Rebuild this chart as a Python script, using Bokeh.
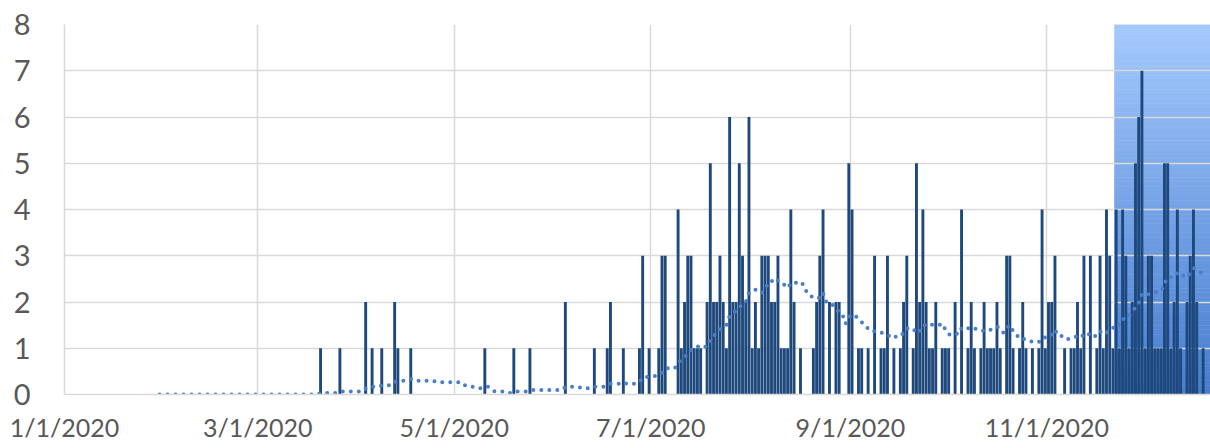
import numpy as np
import pandas as pd
from bokeh.plotting import figure
from bokeh.models import Range1d, FixedTicker
from bokeh.embed import file_html
from bokeh.resources import INLINE

# ---------------- data ----------------
series_start = "2020-01-01"
series_end = "2020-12-19"
view_end = "2020-12-21 19:00"

event_dates = [
    "2020-03-20", "2020-03-26", "2020-04-03", "2020-04-05", "2020-04-08", "2020-04-12",
    "2020-04-13", "2020-04-17", "2020-05-10", "2020-05-19", "2020-05-24", "2020-06-04",
    "2020-06-13", "2020-06-17", "2020-06-18", "2020-06-22", "2020-06-27", "2020-06-28",
    "2020-06-30", "2020-07-03", "2020-07-04", "2020-07-05", "2020-07-09", "2020-07-10",
    "2020-07-11", "2020-07-12", "2020-07-13", "2020-07-14", "2020-07-15", "2020-07-16",
    "2020-07-18", "2020-07-19", "2020-07-20", "2020-07-21", "2020-07-22", "2020-07-23",
    "2020-07-24", "2020-07-25", "2020-07-26", "2020-07-27", "2020-07-28", "2020-07-29",
    "2020-07-30", "2020-07-31", "2020-08-01", "2020-08-02", "2020-08-03", "2020-08-04",
    "2020-08-05", "2020-08-06", "2020-08-07", "2020-08-08", "2020-08-09", "2020-08-10",
    "2020-08-11", "2020-08-12", "2020-08-13", "2020-08-14", "2020-08-16", "2020-08-20",
    "2020-08-21", "2020-08-22", "2020-08-23", "2020-08-25", "2020-08-27", "2020-08-28",
    "2020-08-31", "2020-09-01", "2020-09-03", "2020-09-04", "2020-09-06", "2020-09-08",
    "2020-09-10", "2020-09-11", "2020-09-12", "2020-09-14", "2020-09-16", "2020-09-17",
    "2020-09-18", "2020-09-20", "2020-09-21", "2020-09-22", "2020-09-23", "2020-09-24",
    "2020-09-25", "2020-09-26", "2020-09-27", "2020-09-29", "2020-09-30", "2020-10-01",
    "2020-10-03", "2020-10-05", "2020-10-07", "2020-10-08", "2020-10-09", "2020-10-11",
    "2020-10-12", "2020-10-13", "2020-10-14", "2020-10-15", "2020-10-16", "2020-10-17",
    "2020-10-19", "2020-10-20", "2020-10-21", "2020-10-23", "2020-10-24", "2020-10-25",
    "2020-10-27", "2020-10-29", "2020-10-30", "2020-10-31", "2020-11-01", "2020-11-02",
    "2020-11-03", "2020-11-06", "2020-11-08", "2020-11-09", "2020-11-10", "2020-11-11",
    "2020-11-12", "2020-11-14", "2020-11-16", "2020-11-17", "2020-11-18", "2020-11-19",
    "2020-11-20", "2020-11-21", "2020-11-22", "2020-11-23", "2020-11-24", "2020-11-25",
    "2020-11-26", "2020-11-27", "2020-11-28", "2020-11-29", "2020-11-30", "2020-12-01",
    "2020-12-02", "2020-12-03", "2020-12-04", "2020-12-05", "2020-12-06", "2020-12-07",
    "2020-12-08", "2020-12-09", "2020-12-10", "2020-12-11", "2020-12-12", "2020-12-14",
    "2020-12-15", "2020-12-16", "2020-12-17", "2020-12-19",
]
event_counts = [
    1, 1, 2, 1, 1, 2,
    1, 1, 1, 1, 1, 2,
    1, 1, 2, 1, 1, 3,
    1, 1, 3, 3, 4, 1,
    2, 3, 3, 1, 1, 1,
    2, 5, 2, 2, 3, 2,
    1, 6, 2, 2, 5, 3,
    2, 6, 1, 2, 1, 3,
    3, 3, 2, 2, 3, 1,
    1, 1, 4, 2, 1, 1,
    2, 3, 4, 2, 2, 2,
    5, 4, 1, 1, 1, 3,
    1, 1, 3, 1, 1, 2,
    3, 1, 5, 2, 4, 2,
    1, 1, 2, 1, 1, 1,
    2, 4, 1, 2, 1, 1,
    2, 1, 1, 1, 2, 1,
    3, 3, 1, 1, 2, 1,
    1, 1, 4, 1, 2, 2,
    3, 1, 1, 1, 2, 1,
    3, 3, 1, 3, 1, 4,
    3, 1, 4, 1, 4, 3,
    1, 2, 5, 6, 7, 1,
    3, 3, 1, 1, 1, 5,
    5, 1, 2, 4, 1, 2,
    3, 4, 2, 1,
]

ma_period = 30

tick_dates = ["2020-01-01", "2020-03-01", "2020-05-01", "2020-07-01", "2020-09-01", "2020-11-01"]
tick_labels = ["1/1/2020", "3/1/2020", "5/1/2020", "7/1/2020", "9/1/2020", "11/1/2020"]
y_ticks = [0, 1, 2, 3, 4, 5, 6, 7, 8]

highlight_start = "2020-11-22"
highlight_end = "2020-12-31"

# ---------------- build series ----------------
days = pd.date_range(series_start, series_end, freq="D")
counts = pd.Series(0.0, index=days)
counts.loc[pd.to_datetime(event_dates)] = event_counts
ma = counts.rolling(ma_period).mean()
centers = days + pd.Timedelta(hours=12)
ma_mask = ~ma.isna().values

def ms(d):
    return float(pd.Timestamp(d).value // 10**6)

# ---------------- figure ----------------
p = figure(
    width=1210, height=448,
    x_axis_type="datetime",
    x_range=Range1d(ms(series_start), ms(view_end)),
    y_range=Range1d(0, 8),
    output_backend="svg", toolbar_location=None,
    min_border_left=64, min_border_right=0, min_border_top=24, min_border_bottom=54,
)
p.outline_line_color = None
p.background_fill_color = "white"

# highlight gradient band (beneath grid and bars)
n_bands = 80
edges = np.linspace(y_ticks[0], y_ticks[-1], n_bands + 1)
top_rgb = np.array([164, 201, 253])
bot_rgb = np.array([70, 124, 206])
cols = []
for i in range(n_bands):
    t = (i + 0.5) / n_bands
    c = bot_rgb + (top_rgb - bot_rgb) * t
    cols.append("#%02x%02x%02x" % tuple(int(round(v)) for v in c))
p.quad(left=[ms(highlight_start)] * n_bands, right=[ms(highlight_end)] * n_bands,
       bottom=edges[:-1], top=edges[1:], fill_color=cols, line_color=cols,
       line_width=0.6, level="image")

# bars
p.vbar(x=centers, top=counts.values, width=0.9 * 86400000,
       fill_color="#1F497D", line_color=None)

# moving average trendline (dotted)
p.line(x=centers[ma_mask], y=ma.values[ma_mask], line_color="#4a7ec6",
       line_width=4, line_dash="0 8", line_cap="round")

# axes
tick_ms = [ms(d) for d in tick_dates]
p.xaxis.ticker = FixedTicker(ticks=tick_ms)
p.xaxis.major_label_overrides = {t: lab for t, lab in zip(tick_ms, tick_labels)}
p.xgrid.ticker = FixedTicker(ticks=tick_ms)
p.yaxis.ticker = FixedTicker(ticks=y_ticks)

for ax in (p.xaxis[0], p.yaxis[0]):
    ax.major_tick_line_color = None
    ax.minor_tick_line_color = None
    ax.major_label_text_color = "#595959"
    ax.major_label_text_font = "Lato"
    ax.axis_line_color = "#d9d9d9"
    ax.axis_line_width = 1.5

p.xaxis.major_label_text_font_size = "25px"
p.xaxis.major_label_standoff = 11
p.yaxis.major_label_text_font_size = "29px"
p.yaxis.major_label_standoff = 28

p.xgrid.grid_line_color = "#d9d9d9"
p.ygrid.grid_line_color = "#d9d9d9"
p.xgrid.grid_line_width = 1.5
p.ygrid.grid_line_width = 1.5

open("out.html", "w").write(file_html(p, INLINE))
